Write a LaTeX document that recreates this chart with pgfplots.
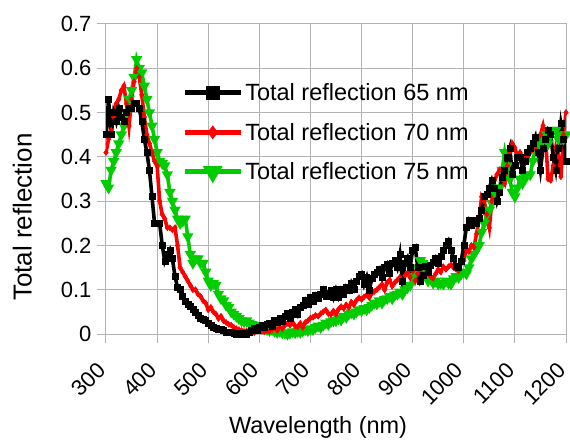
\documentclass[border=0pt]{standalone}
\usepackage{pgfplots}
\pgfplotsset{compat=1.18}
\usepackage{pgfplotstable}
\usepackage{fontspec}
\setmainfont{Liberation Sans}

\definecolor{gridgray}{RGB}{179,179,179}
\definecolor{sRed}{RGB}{255,0,0}
\definecolor{sGreen}{RGB}{0,204,0}

% wavelength (nm), total reflection for 65, 70 and 75 nm
\pgfplotstableread{
wl r65 r70 r75
300 0.45 0.41 0.34
305 0.53 0.44 0.33
310 0.45 0.46 0.37
315 0.50 0.49 0.39
320 0.48 0.52 0.41
325 0.51 0.53 0.43
330 0.49 0.55 0.45
335 0.48 0.56 0.47
340 0.50 0.52 0.50
345 0.51 0.47 0.53
350 0.51 0.53 0.55
355 0.52 0.57 0.58
360 0.52 0.60 0.62
365 0.51 0.58 0.60
370 0.48 0.54 0.59
375 0.44 0.49 0.56
380 0.41 0.45 0.53
385 0.37 0.43 0.50
390 0.31 0.41 0.47
395 0.25 0.39 0.44
400 0.25 0.38 0.41
405 0.25 0.30 0.39
410 0.20 0.27 0.385
415 0.165 0.26 0.38
420 0.18 0.24 0.36
425 0.19 0.24 0.32
430 0.17 0.235 0.30
435 0.13 0.24 0.28
440 0.105 0.20 0.26
445 0.10 0.15 0.25
450 0.085 0.14 0.255
455 0.075 0.13 0.26
460 0.068 0.12 0.22
465 0.062 0.11 0.18
470 0.056 0.10 0.16
475 0.05 0.10 0.17
480 0.042 0.09 0.17
485 0.036 0.085 0.16
490 0.034 0.075 0.16
495 0.03 0.07 0.14
500 0.025 0.055 0.12
505 0.02 0.06 0.11
510 0.016 0.05 0.115
515 0.013 0.045 0.11
520 0.01 0.035 0.09
525 0.01 0.04 0.08
530 0.008 0.03 0.075
535 0.005 0.026 0.065
540 0.004 0.022 0.06
545 0.005 0.02 0.05
550 0.002 0.015 0.045
555 0.0 0.012 0.04
560 0.002 0.01 0.035
565 0.0 0.008 0.03
570 0.001 0.006 0.028
575 0.0 0.007 0.03
580 0.005 0.004 0.025
585 0.008 0.006 0.022
590 0.012 0.003 0.02
595 0.008 0.008 0.018
600 0.015 0.01 0.015
605 0.02 0.006 0.015
610 0.016 0.005 0.012
615 0.022 0.008 0.01
620 0.025 0.006 0.008
625 0.018 0.01 0.01
630 0.03 0.014 0.006
635 0.026 0.008 0.004
640 0.035 0.016 0.006
645 0.028 0.012 0.003
650 0.04 0.02 0.002
655 0.046 0.024 0.0
660 0.036 0.02 0.002
665 0.05 0.026 0.005
670 0.056 0.018 0.003
675 0.044 0.016 0.006
680 0.06 0.024 0.004
685 0.066 0.015 0.007
690 0.077 0.026 0.01
695 0.068 0.03 0.008
700 0.083 0.036 0.012
705 0.075 0.038 0.01
710 0.088 0.042 0.015
715 0.08 0.04 0.018
720 0.09 0.046 0.015
725 0.1 0.05 0.02
730 0.086 0.054 0.025
735 0.092 0.046 0.022
740 0.098 0.044 0.028
745 0.082 0.052 0.03
750 0.1 0.045 0.03
755 0.084 0.056 0.035
760 0.1 0.062 0.032
765 0.09 0.058 0.04
770 0.106 0.066 0.038
775 0.098 0.06 0.045
780 0.115 0.072 0.048
785 0.102 0.066 0.045
790 0.12 0.076 0.05
795 0.13 0.082 0.055
800 0.136 0.078 0.053
805 0.112 0.084 0.058
810 0.128 0.088 0.055
815 0.098 0.082 0.06
820 0.125 0.092 0.065
825 0.135 0.096 0.07
830 0.14 0.1 0.068
835 0.147 0.106 0.075
840 0.128 0.112 0.07
845 0.15 0.1 0.078
850 0.158 0.116 0.08
855 0.138 0.122 0.085
860 0.16 0.108 0.08
865 0.166 0.116 0.088
870 0.15 0.122 0.09
875 0.18 0.128 0.095
880 0.118 0.118 0.09
885 0.16 0.132 0.1
890 0.172 0.138 0.105
895 0.15 0.128 0.11
900 0.19 0.142 0.13
905 0.196 0.12 0.14
910 0.15 0.136 0.15
915 0.12 0.142 0.166
920 0.132 0.13 0.16
925 0.152 0.136 0.14
930 0.14 0.142 0.12
935 0.156 0.13 0.125
940 0.162 0.126 0.115
945 0.172 0.136 0.12
950 0.16 0.146 0.113
955 0.175 0.14 0.115
960 0.19 0.152 0.113
965 0.2 0.146 0.12
970 0.21 0.152 0.115
975 0.19 0.156 0.113
980 0.17 0.15 0.125
985 0.152 0.146 0.13
990 0.15 0.143 0.128
995 0.165 0.16 0.136
1000 0.2 0.166 0.14
1005 0.24 0.19 0.136
1010 0.256 0.186 0.15
1015 0.245 0.2 0.17
1020 0.256 0.196 0.18
1025 0.25 0.226 0.19
1030 0.262 0.26 0.2
1035 0.28 0.31 0.23
1040 0.31 0.3 0.25
1045 0.316 0.27 0.27
1050 0.33 0.24 0.28
1055 0.347 0.3 0.295
1060 0.33 0.347 0.32
1065 0.30 0.36 0.33
1070 0.32 0.37 0.33
1075 0.355 0.35 0.37
1080 0.37 0.34 0.41
1085 0.40 0.38 0.38
1090 0.42 0.41 0.35
1095 0.36 0.43 0.32
1100 0.38 0.42 0.31
1105 0.40 0.40 0.33
1110 0.40 0.41 0.35
1115 0.37 0.40 0.34
1120 0.39 0.39 0.355
1125 0.41 0.40 0.36
1130 0.42 0.41 0.36
1135 0.43 0.42 0.39
1140 0.445 0.42 0.42
1145 0.41 0.44 0.44
1150 0.37 0.45 0.43
1155 0.42 0.47 0.44
1160 0.44 0.44 0.45
1165 0.46 0.35 0.43
1170 0.45 0.347 0.45
1175 0.40 0.38 0.46
1180 0.37 0.42 0.46
1185 0.42 0.40 0.44
1190 0.475 0.355 0.45
1195 0.44 0.45 0.44
1200 0.39 0.50 0.45
}\reflectance

\begin{document}
\begin{tikzpicture}
\begin{axis}[
  scale only axis,
  width=460pt, height=310pt,
  xmin=300, xmax=1200, ymin=0, ymax=0.7,
  xtick={300,400,500,600,700,800,900,1000,1100,1200},
  ytick={0,0.1,0.2,0.3,0.4,0.5,0.6,0.7},
  yticklabels={0,0.1,0.2,0.3,0.4,0.5,0.6,0.7},
  /pgf/number format/set thousands separator={},
  grid=major,
  grid style={gridgray, line width=1pt},
  axis line style={gridgray, line width=1pt},
  tick style={gridgray, line width=1pt},
  major tick length=9pt,
  tick align=outside,
  tick pos=left,
  /pgf/number format/assume math mode=true,
  ticklabel style={font=\fontsize{22}{22}\selectfont, text=black},
  xticklabel style={xshift=-2pt, yshift=-21pt, rotate=45, anchor=east},
  yticklabel style={xshift=-2pt},
  xlabel={Wavelength (nm)},
  ylabel={Total reflection},
  xlabel style={font=\fontsize{23.5}{23.5}\selectfont,
    at={(axis description cs:0.461,-0.30)}, anchor=center},
  ylabel style={font=\fontsize{26}{26}\selectfont,
    at={(axis description cs:-0.182,0.377)}, anchor=center, rotate=0},
  legend style={at={(axis cs:443,0.575)}, anchor=north west, draw=none, fill=none,
    font=\fontsize{23.5}{23.5}\selectfont, row sep=17pt,
    cells={anchor=west}},
  legend image code/.code={
    \draw[mark repeat=2, mark phase=2, #1, line width=5pt, mark size=6.5pt]
      plot coordinates {(0pt,0pt) (28pt,0pt) (56pt,0pt)};
  },
  reverse legend,
  every axis plot/.append style={line width=3.6pt, mark size=3pt,
    every mark/.append style={line width=0.5pt}},
]
\addplot[sGreen, mark=triangle*, mark options={rotate=180}] table[x=wl, y=r75] {\reflectance};
\addlegendentry{Total reflection 75 nm}
\addplot[sRed, mark=diamond*] table[x=wl, y=r70] {\reflectance};
\addlegendentry{Total reflection 70 nm}
\addplot[black, mark=square*] table[x=wl, y=r65] {\reflectance};
\addlegendentry{Total reflection 65 nm}
\end{axis}
\pgfresetboundingbox
\path ([xshift=-106pt,yshift=-105pt]current axis.south west)
  rectangle ([xshift=4pt,yshift=24pt]current axis.north east);
\end{tikzpicture}
\end{document}
